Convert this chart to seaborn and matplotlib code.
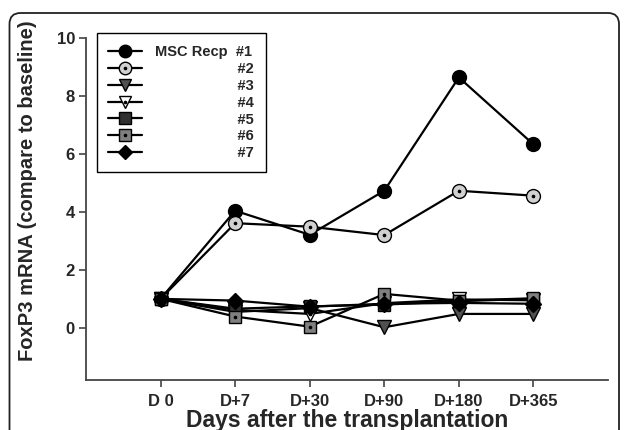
import matplotlib
matplotlib.use('Agg')
import numpy as np
import pandas as pd
import seaborn as sns
import matplotlib.pyplot as plt
from matplotlib.lines import Line2D
from matplotlib.patches import FancyBboxPatch
from matplotlib.transforms import IdentityTransform
from matplotlib.legend_handler import HandlerTuple

# values (fold change vs baseline)
days = ['D 0', 'D+7', 'D+30', 'D+90', 'D+180', 'D+365']
recp1 = [1.0, 4.04, 3.21, 4.73, 8.64, 6.33]
recp2 = [1.0, 3.61, 3.49, 3.20, 4.73, 4.56]
recp3 = [1.0, 0.55, 0.68, 0.02, 0.48, 0.48]
recp4 = [1.0, 0.62, 0.48, 0.85, 0.98, 0.95]
recp5 = [1.0, 0.66, 0.74, 0.80, 0.92, 1.00]
recp6 = [1.0, 0.39, 0.04, 1.17, 0.94, 1.02]
recp7 = [1.0, 0.94, 0.73, 0.83, 0.86, 0.83]
recp_names = ['#1', '#2', '#3', '#4', '#5', '#6', '#7']

df = pd.DataFrame({
    'pos': np.tile(np.arange(len(days)), len(recp_names)),
    'recp': np.repeat(recp_names, len(days)),
    'value': recp1 + recp2 + recp3 + recp4 + recp5 + recp6 + recp7,
})

# marker, face colour, size, centre dot
styles = {
    '#1': ('o', 'black', 10, False),
    '#2': ('o', '#d0d0d0', 10, True),
    '#3': ('v', '#505050', 10, False),
    '#4': ('v', 'white', 10, True),
    '#5': ('s', '#303030', 9, False),
    '#6': ('s', '#808080', 9, True),
    '#7': ('D', 'black', 8, False),
}

sns.set_style('ticks')
plt.rcParams['font.family'] = ['Liberation Sans', 'DejaVu Sans']
plt.rcParams['font.weight'] = 'bold'

fig = plt.figure(figsize=(6.27, 4.30), dpi=100)
ax = fig.add_axes([86 / 627, 1 - 380 / 430, (608 - 86) / 627, (380 - 38) / 430])

handles = []
for name in recp_names:
    mk, fc, ms, dot = styles[name]
    sub = df[df['recp'] == name]
    sns.lineplot(data=sub, x='pos', y='value', ax=ax, estimator=None, color='black',
                 lw=1.6, marker=mk, markersize=ms, markerfacecolor=fc,
                 markeredgecolor='black', markeredgewidth=1.0, legend=False)
    h = Line2D([], [], color='black', lw=1.6, marker=mk, markersize=ms - 1,
               markerfacecolor=fc, markeredgecolor='black', markeredgewidth=1.0)
    if dot:
        ax.plot(sub['pos'], sub['value'], ls='none', marker='o', ms=1.6, color='black')
        h = (h, Line2D([], [], ls='none', marker='o', ms=1.6, color='black'))
    handles.append(h)

labels = ['MSC Recp  #1'] + [' ' * 20 + n for n in recp_names[1:]]
leg = ax.legend(handles, labels, loc='upper left', bbox_to_anchor=(0.0205, 1.014),
                borderaxespad=0, frameon=True, fancybox=False, edgecolor='black',
                framealpha=1, prop={'size': 10.5, 'weight': 'bold'}, handlelength=2.3,
                handletextpad=0.9, labelspacing=0.2, borderpad=0.8,
                handler_map={tuple: HandlerTuple(ndivide=1)})
leg.get_frame().set_linewidth(1.0)

ax.set_xlim(-1, 6)
ax.set_ylim(-1.8, 10)
ax.set_xticks(range(len(days)), days)
ax.set_yticks([0, 2, 4, 6, 8, 10])
sns.despine(ax=ax)
for s in ['left', 'bottom']:
    ax.spines[s].set_color('#444444')
    ax.spines[s].set_linewidth(1.3)
ax.tick_params(direction='out', length=5, width=1.2, color='#444444', labelsize=12)
ax.tick_params(axis='x', pad=5)
ax.tick_params(axis='y', pad=3)
for t in ax.get_xticklabels() + ax.get_yticklabels():
    t.set_fontweight('bold')

ax.set_xlabel('Days after the transplantation', fontsize=16.5, fontweight='bold')
ax.set_ylabel('FoxP3 mRNA (compare to baseline)', fontsize=14.5, fontweight='bold')
ax.xaxis.set_label_coords(0.5, -0.085)
ax.yaxis.set_label_coords(-0.094, 0.555)

# rounded panel border
frame = FancyBboxPatch((9.5, -60), 619 - 9.5, 430 - 13 + 60, boxstyle='round,pad=0,rounding_size=11',
                       transform=IdentityTransform(), fill=False, edgecolor='#222222', lw=1.3)
fig.add_artist(frame)

fig.savefig('out.png', dpi=100)
